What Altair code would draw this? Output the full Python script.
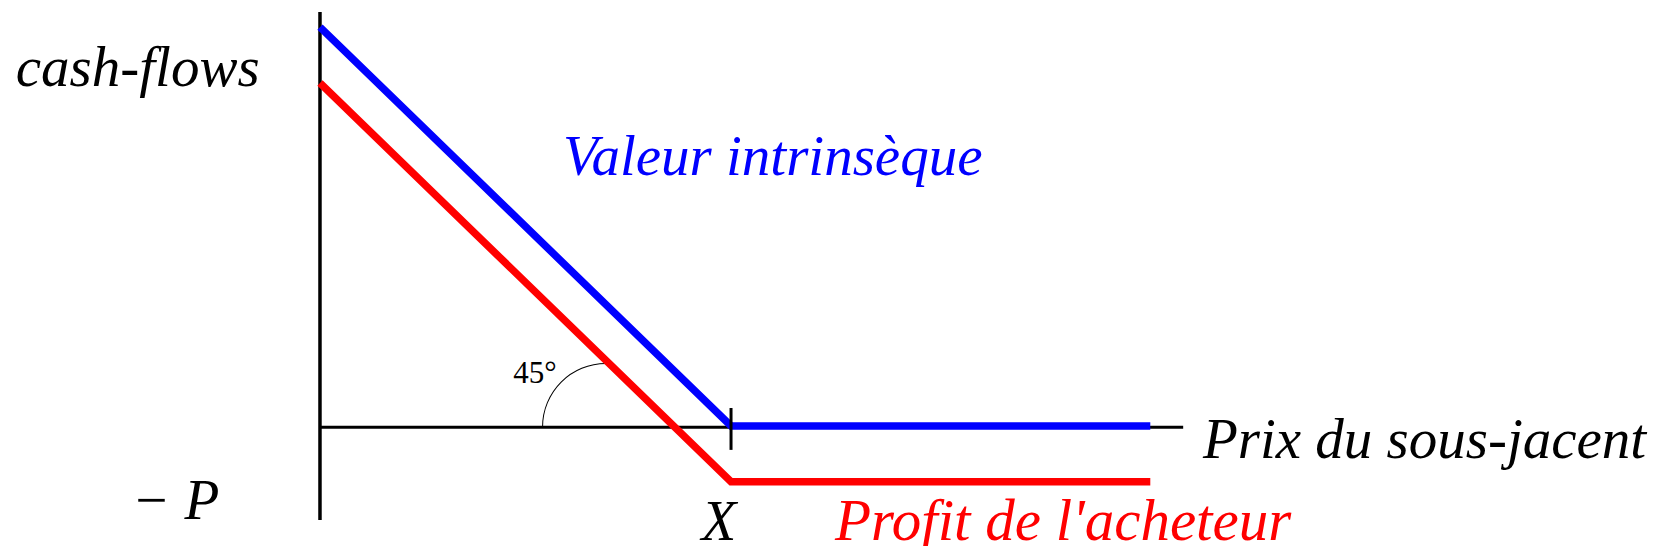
import altair as alt
import pandas as pd

# ---- data ----
price = [0, 100, 202]            # prix du sous-jacent (S), X = 100
intrinsic = [100, 0, 0]          # valeur intrinsèque du put
profit = [86, -14, -14]          # profit de l'acheteur (prime P = 14)

series_names = ["Valeur intrinsèque", "Profit de l'acheteur"]
series_colors = ["#0000ff", "#ff0000"]

axis_x = [0, 210]     # x-axis extent
axis_v = [-0.3, -0.3]
yaxis_v = [103.8, -23.6]
tick_v = [4.5, -6.0]
strike = 100

labels = ["cash-flows", "Valeur intrinsèque", "Prix du sous-jacent", "X",
          "Profit de l'acheteur", "− P"]
label_x = [-74.0, 59.1, 214.8, 92.8, 125.3, -45.8]
label_y = [85.2, 62.9, -8.0, -28.5, -28.5, -23.3]
label_color = ["black", "#0000ff", "black", "black", "#ff0000", "black"]
label_size = [57, 57, 57, 57, 59, 57]

angle_text = "45°"
angle_x, angle_y = 47.0, 10.8
arc_cx, arc_cy = 69.6, -0.25

SERIF = "Liberation Serif"

xs = alt.Scale(domain=[-75.9, 324.3], nice=False, zero=False)
ys = alt.Scale(domain=[-30.1, 104.8], nice=False, zero=False)

rows = []
for name, vals in zip(series_names, [intrinsic, profit]):
    for i, (s, v) in enumerate(zip(price, vals)):
        rows.append({"S": s, "v": v, "series": name, "o": i})
lines_df = pd.DataFrame(rows)

xaxis_df = pd.DataFrame({"S": axis_x, "v": axis_v})
yaxis_df = pd.DataFrame({"S": [0, 0], "v": yaxis_v})
tick_df = pd.DataFrame({"S": [strike, strike], "v": tick_v})
lab_df = pd.DataFrame({"t": labels, "S": label_x, "v": label_y, "c": label_color, "fs": label_size})
ang_df = pd.DataFrame({"t": [angle_text], "S": [angle_x], "v": [angle_y]})
arc_df = pd.DataFrame({"S": [arc_cx], "v": [arc_cy]})

X = lambda: alt.X("S:Q", scale=xs, axis=None)
Y = lambda: alt.Y("v:Q", scale=ys, axis=None)

xaxis = alt.Chart(xaxis_df).mark_line(color="black", strokeWidth=3).encode(x=X(), y=Y())
yaxis = alt.Chart(yaxis_df).mark_line(color="black", strokeWidth=3.5).encode(x=X(), y=Y())

arc = alt.Chart(arc_df).mark_arc(
    radius=64, radius2=63, theta=4.7124, theta2=6.2832, color="black"
).encode(x=X(), y=Y())

lines = alt.Chart(lines_df).mark_line(strokeWidth=7.5, strokeJoin="miter", strokeCap="butt").encode(
    x=X(), y=Y(), order="o:O",
    color=alt.Color("series:N", scale=alt.Scale(domain=series_names, range=series_colors), legend=None),
    detail="series:N",
)

tick = alt.Chart(tick_df).mark_line(color="black", strokeWidth=3).encode(x=X(), y=Y())

text = alt.Chart(lab_df).mark_text(
    font=SERIF, fontStyle="italic", align="left", baseline="alphabetic"
).encode(x=X(), y=Y(), text="t:N", color=alt.Color("c:N", scale=None),
         size=alt.Size("fs:Q", scale=None, legend=None))

ang = alt.Chart(ang_df).mark_text(
    font=SERIF, fontSize=31, align="left", baseline="alphabetic", color="black"
).encode(x=X(), y=Y(), text="t:N")

chart = alt.layer(xaxis, yaxis, arc, lines, tick, text, ang).properties(
    width=1645, height=538, padding=0, autosize=alt.AutoSizeParams(type="none")
).configure_view(stroke=None)

chart.save("out.html", embed_options={"renderer": "svg", "actions": False})
